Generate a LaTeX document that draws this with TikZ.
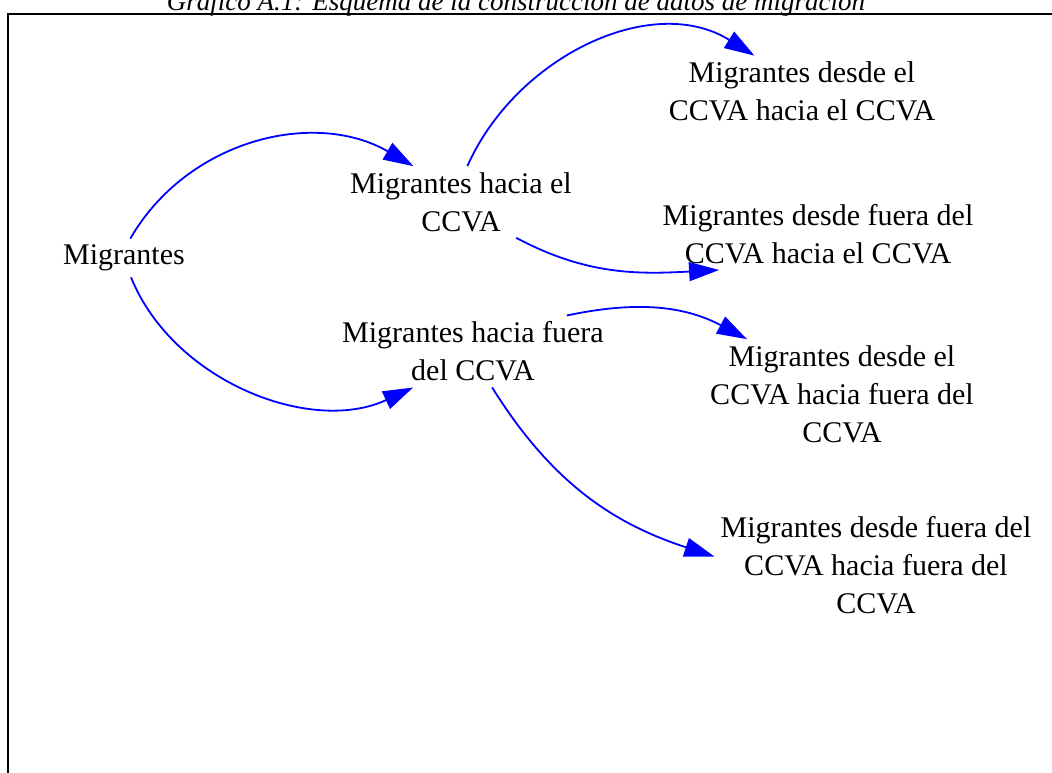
\documentclass[tikz,border=0pt]{standalone}
\usepackage{fontspec}
\setmainfont{Liberation Serif}
\usetikzlibrary{arrows.meta}
\definecolor{flowblue}{RGB}{0,0,255}
\tikzset{
  migbox/.style={align=center, inner sep=6pt, font=\fontsize{30}{38}\selectfont},
  flowarrow/.style={-{Triangle[length=30pt, width=19pt]}, line width=1.8pt, flowblue},
  framebox/.style={draw, line width=2.3pt},
  titlelbl/.style={font=\fontsize{27}{30}\selectfont\itshape, anchor=base},
}

\begin{document}
\begin{tikzpicture}[x=1pt, y=1pt]
  \useasboundingbox (0,0) rectangle (1052,-773);
  \clip (0,0) rectangle (1052,-773);

  % === Title and frame ===
  \node[titlelbl] (title) at (516,-10.5) {Gráfico A.1: Esquema de la construcción de datos de migración};
  \draw[framebox] (8,-14) rectangle (1080,-800);

  % === Nodes ===
  \node[migbox] (mig) at (124,-258) {Migrantes};
  \node[migbox] (hce) at (461,-202) {Migrantes hacia el\\CCVA};
  \node[migbox] (hcf) at (473,-351.5) {Migrantes hacia fuera\\del CCVA};
  \node[migbox] (dd1) at (802,-91.5) {Migrantes desde el\\CCVA hacia el CCVA};
  \node[migbox] (df1) at (818,-234) {Migrantes desde fuera del\\CCVA hacia el CCVA};
  \node[migbox] (dd2) at (842,-394) {Migrantes desde el\\CCVA hacia fuera del\\CCVA};
  \node[migbox] (df2) at (876,-565) {Migrantes desde fuera del\\CCVA hacia fuera del\\CCVA};

  % === Arrows ===
  \draw[flowarrow] (mig.72) to[out=60, in=150] (hce.143);
  \draw[flowarrow] (mig.-70) to[out=-68, in=205, looseness=0.95] (hcf.211);
  \draw[flowarrow] (hce.80) to[out=66, in=148] (dd1.143);
  \draw[flowarrow] (hce.-33) to[out=-28, in=183] (df1.200);
  \draw[flowarrow] (hcf.21.5) to[out=12, in=152] (dd2.150);
  \draw[flowarrow] (hcf.-62) to[out=-58, in=162] (df2.177);
\end{tikzpicture}
\end{document}
